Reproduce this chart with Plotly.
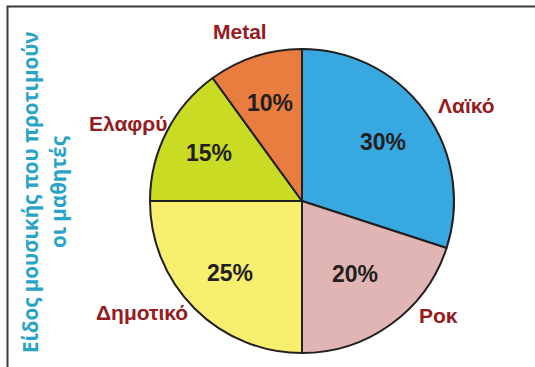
import math
import plotly.graph_objects as go

# Music genre preferences of the students (percent)
GENRES = ["Λαϊκό", "Ροκ", "Δημοτικό", "Ελαφρύ", "Metal"]
SHARES = [30, 20, 25, 15, 10]
COLORS = ["#38A9E0", "#E0B5B3", "#F8EF6F", "#C9DB22", "#E97C3F"]
TITLE_LINES = ["Είδος μουσικής που προτιμούν", "οι μαθητές"]

W, H = 535, 367
CX, CY, R = 302, 201, 152          # pie centre / radius in pixels (from top-left)

# placement of the in-slice percentages (fraction of radius)
PCT_RADIUS = [0.66, 0.59, 0.67, 0.69, 0.68]
# placement of the outer genre names (angle in degrees clockwise from 12 o'clock, radius in px)
NAME_ANGLE = [60, 130, 235, 294, 340]
NAME_RADIUS = [190, 178, 195, 190, 180]


def px(x, y):
    return x / W, 1 - y / H


fig = go.Figure(
    go.Pie(
        labels=GENRES,
        values=SHARES,
        sort=False,
        direction="clockwise",
        rotation=0,
        textinfo="none",
        hoverinfo="label+percent",
        marker=dict(colors=COLORS, line=dict(color="#231F20", width=2)),
        domain=dict(
            x=[(CX - R) / W, (CX + R) / W],
            y=[1 - (CY + R) / H, 1 - (CY - R) / H],
        ),
        showlegend=False,
    )
)

annotations = []
total = sum(SHARES)
cum = 0
for i, (name, v) in enumerate(zip(GENRES, SHARES)):
    mid = (cum + v / 2) / total * 2 * math.pi
    cum += v
    # percentage inside the slice
    k = PCT_RADIUS[i] * R
    x, y = px(CX + k * math.sin(mid), CY - k * math.cos(mid))
    annotations.append(dict(
        x=x, y=y, xref="paper", yref="paper", showarrow=False,
        text=f"<b>{v}%</b>",
        font=dict(family="Arial", size=23, color="#231F20"),
        xanchor="center", yanchor="middle",
    ))
    # genre name outside the pie
    a = math.radians(NAME_ANGLE[i])
    x, y = px(CX + NAME_RADIUS[i] * math.sin(a), CY - NAME_RADIUS[i] * math.cos(a))
    annotations.append(dict(
        x=x, y=y, xref="paper", yref="paper", showarrow=False,
        text=f"<b>{name}</b>",
        font=dict(family="Arial", size=21, color="#951B1E"),
        xanchor="center", yanchor="middle",
    ))

# vertical title, two lines
for line, xpos in zip(TITLE_LINES, [30, 58]):
    x, y = px(xpos, 192)
    annotations.append(dict(
        x=x, y=y, xref="paper", yref="paper", showarrow=False,
        text=f"<b>{line}</b>", textangle=-90,
        font=dict(family="Open Sans", size=20.5, color="#29A4C7"),
        xanchor="center", yanchor="middle",
    ))

fig.update_layout(
    width=W, height=H,
    margin=dict(l=0, r=0, t=0, b=0),
    paper_bgcolor="white", plot_bgcolor="white",
    annotations=annotations,
    shapes=[dict(
        type="rect", xref="paper", yref="paper",
        x0=7.5 / W, x1=1.05, y0=-0.05, y1=1 - 6.5 / H,
        line=dict(color="#3A3A3A", width=2),
    )],
)

fig.write_html("out.html")
